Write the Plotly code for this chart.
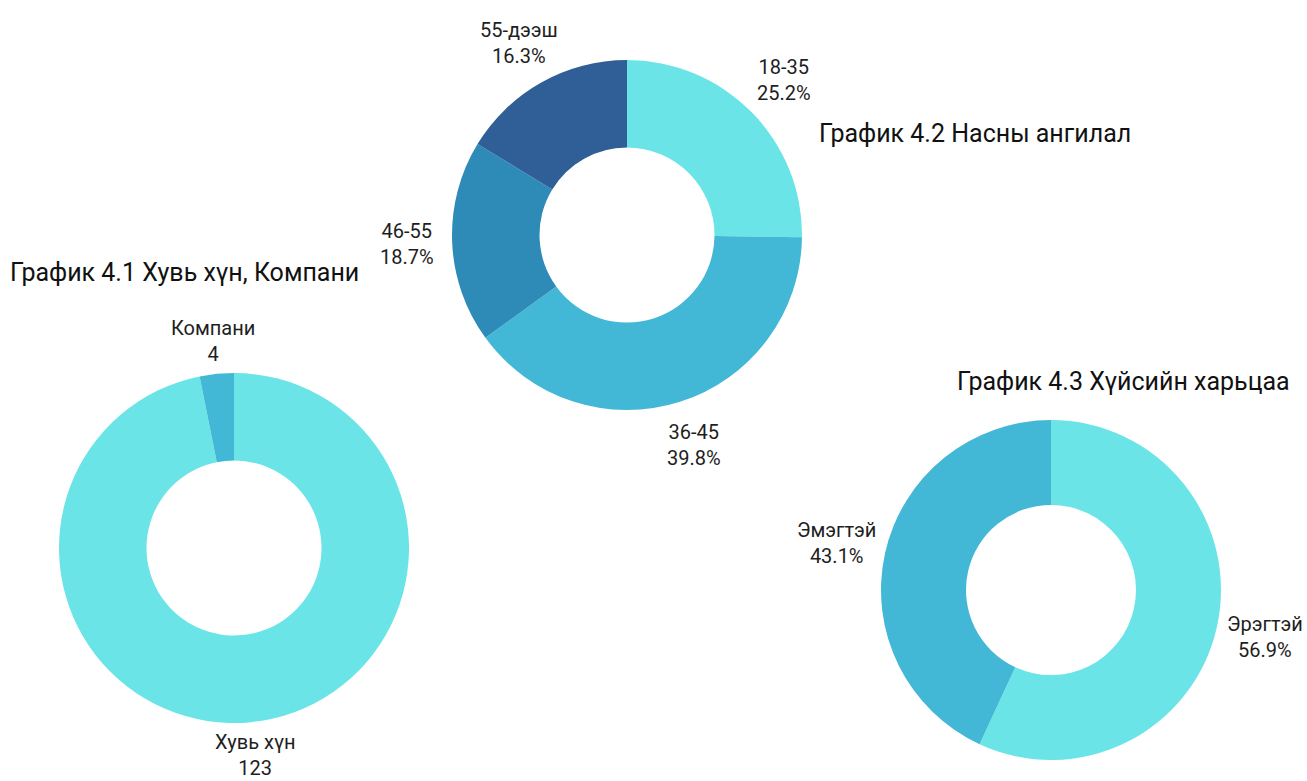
import math
import plotly.graph_objects as go

# ---- data ----
c1_labels = ["Хувь хүн", "Компани"]
c1_values = [123, 4]
c2_labels = ["18-35", "36-45", "46-55", "55-дээш"]
c2_values = [25.2, 39.8, 18.7, 16.3]
c3_labels = ["Эрэгтэй", "Эмэгтэй"]
c3_values = [56.9, 43.1]

titles = ["График 4.1 Хувь хүн, Компани",
          "График 4.2 Насны ангилал",
          "График 4.3 Хүйсийн харьцаа"]

# ---- style ----
W, H = 1307, 781
C_LIGHT = "#6BE4E8"
C_MID = "#43B8D6"
C_DARK = "#2E8BB8"
C_NAVY = "#2F5F96"
FONT = "Roboto"
LABEL_COLOR = "#1e1e1e"

# chart geometry (pixel center, outer radius, label radius factor, label mode)
charts = [
    dict(labels=c1_labels, values=c1_values, colors=[C_LIGHT, C_MID],
         cx=234, cy=548, r=175, lf=1.19, mode="value"),
    dict(labels=c2_labels, values=c2_values, colors=[C_LIGHT, C_MID, C_DARK, C_NAVY],
         cx=627, cy=235, r=175, lf=1.26, mode="percent"),
    dict(labels=c3_labels, values=c3_values, colors=[C_LIGHT, C_MID],
         cx=1051, cy=590, r=170, lf=1.29, mode="percent"),
]

fig = go.Figure()
annotations = []
for ch in charts:
    cx, cy, r = ch["cx"], ch["cy"], ch["r"]
    fig.add_trace(go.Pie(
        labels=ch["labels"], values=ch["values"],
        marker=dict(colors=ch["colors"], line=dict(width=0)),
        hole=0.5, sort=False, direction="clockwise", rotation=0,
        textinfo="none", hoverinfo="label+value+percent", showlegend=False,
        domain=dict(x=[(cx - r) / W, (cx + r) / W],
                    y=[(H - cy - r) / H, (H - cy + r) / H]),
    ))
    total = sum(ch["values"])
    cum = 0.0
    for lab, v in zip(ch["labels"], ch["values"]):
        mid = (cum + v / 2) / total
        cum += v
        ang = 2 * math.pi * mid
        lr = r * ch["lf"]
        px = cx + lr * math.sin(ang)
        py = cy - lr * math.cos(ang)
        if ch["mode"] == "percent":
            txt = f"{lab}<br>{100 * v / total:.1f}%"
        else:
            txt = f"{lab}<br>{v}"
        annotations.append(dict(
            x=px / W, y=1 - py / H, xref="paper", yref="paper",
            text=txt, showarrow=False, xanchor="center", yanchor="middle",
            align="center", font=dict(family=FONT, size=20, color=LABEL_COLOR),
        ))

# titles
title_pos = [(8, 272), (817, 133), (955, 381)]
for t, (tx, ty) in zip(titles, title_pos):
    annotations.append(dict(
        x=tx / W, y=1 - ty / H, xref="paper", yref="paper",
        text=t, showarrow=False, xanchor="left", yanchor="middle",
        font=dict(family=FONT, size=25, color="#111111"),
    ))

fig.update_layout(
    width=W, height=H, autosize=False,
    margin=dict(l=0, r=0, t=0, b=0),
    paper_bgcolor="white", plot_bgcolor="white",
    annotations=annotations,
)

fig.write_html("out.html",
               config={"displayModeBar": False},
               post_script="document.body.style.margin='0';document.body.style.overflow='hidden';")
